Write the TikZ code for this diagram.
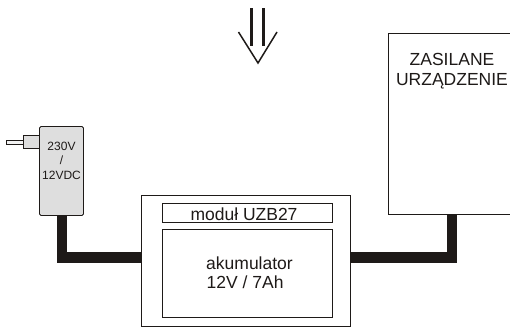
\documentclass[tikz,border=0pt]{standalone}
\usepackage{fontspec}
\setmainfont{Liberation Sans}
\definecolor{ink}{HTML}{1E1A18}
\tikzset{
  px/.style={x=1pt,y=-1pt},
  frame/.style={draw=ink,line width=0.9pt,fill=white,inner sep=0pt,rectangle},
  cable/.style={draw=ink,line width=10.5pt,line cap=butt,line join=miter},
  label/.style={text=ink,inner sep=0pt,align=center},
  shaft/.style={draw=ink,line width=3pt},
  vee/.style={draw=ink,line width=1.5pt,line join=miter}
}
\begin{document}
\begin{tikzpicture}[px]
\useasboundingbox (0,0) rectangle (510,327);
\clip (0,0) rectangle (510,327);
% cables
\coordinate (adapterfoot) at (62,215);
\coordinate (lbend) at (62,257.5);
\coordinate (modl) at (141,257.5);
\coordinate (modr) at (349,257.5);
\coordinate (rbend) at (452,257.5);
\coordinate (devfoot) at (452,214);
\draw[cable] (adapterfoot) -- (lbend) -- (modl);
\draw[cable] (modr) -- (rbend) -- (devfoot);
% adapter
\node[frame,line width=0.8pt,fill=black!5,minimum width=17pt,minimum height=3.5pt,anchor=east] (pin) at (23.5,142.5) {};
\node[frame,fill=black!13,minimum width=16pt,minimum height=12.5pt,anchor=east] (plug) at (39.5,142) {};
\node[frame,rounded corners=1.5pt,fill=black!13,minimum width=44pt,minimum height=89pt,anchor=north west] (adapter) at (39,126) {};
\node[label,font=\fontsize{12}{14.5}\selectfont] (adaptertext) at (61.5,160.5) {230V\\/\\12VDC};
% module
\node[frame,minimum width=209pt,minimum height=131pt,anchor=north west] (module) at (140.5,194.5) {};
\node[frame,minimum width=170pt,minimum height=19.5pt,anchor=north west] (title) at (161.5,202.5) {};
\node[label,font=\fontsize{17.5}{20}\selectfont] (titletext) at (244,214) {moduł UZB27};
\node[frame,minimum width=170pt,minimum height=88pt,anchor=north west] (battery) at (161.5,228.5) {};
\node[label,font=\fontsize{17.5}{20}\selectfont] (battext1) at (249.5,263) {akumulator};
\node[label,font=\fontsize{17.5}{20}\selectfont,anchor=west] (battext2) at (206.5,282) {12V / 7Ah};
% device
\node[frame,minimum width=124pt,minimum height=181pt,anchor=north west] (device) at (387.5,33) {};
\node[label,font=\fontsize{17.5}{20}\selectfont] (devtext) at (452,71.5) {ZASILANE\\URZĄDZENIE};
% arrow
\coordinate (s1a) at (251.5,8);
\coordinate (s1b) at (251.5,45.5);
\coordinate (s2a) at (263.5,8);
\coordinate (s2b) at (263.5,45.5);
\coordinate (va) at (238.5,32);
\coordinate (vb) at (258,63);
\coordinate (vc) at (277,32);
\draw[shaft] (s1a) -- (s1b);
\draw[shaft] (s2a) -- (s2b);
\draw[vee] (va) -- (vb) -- (vc);
\end{tikzpicture}
\end{document}
